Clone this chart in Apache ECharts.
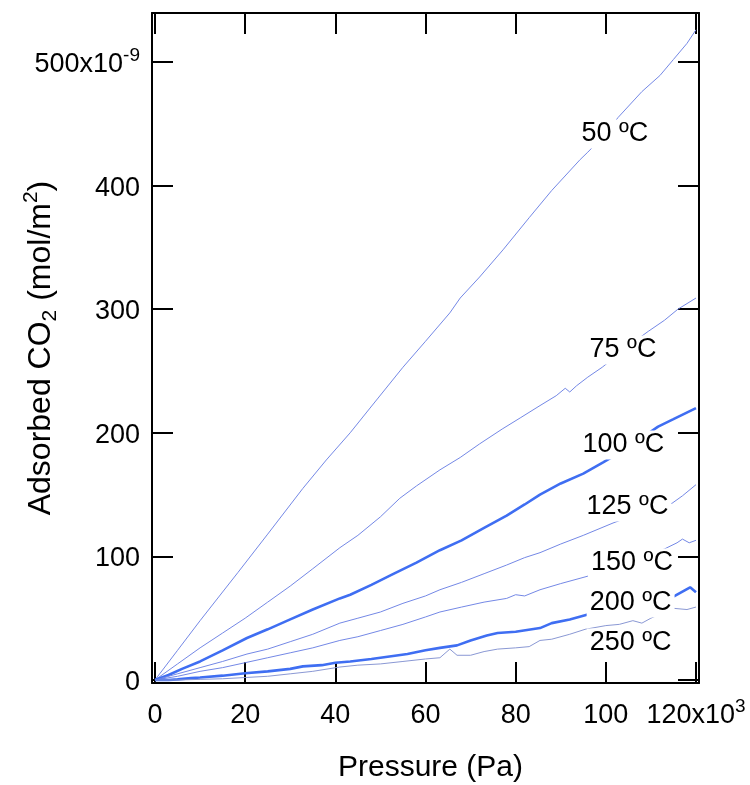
<!DOCTYPE html>
<html>
<head>
<meta charset="utf-8">
<script src="https://cdn.jsdelivr.net/npm/echarts@6/dist/echarts.min.js"></script>
<style>html,body{margin:0;padding:0;background:#fff;}#c{width:750px;height:785px;}</style>
</head>
<body>
<div id="c"></div>
<script>
// Pressure in units of 10^3 Pa, adsorbed CO2 in units of 10^-9 mol/m^2
const seriesNames = ['50 ºC', '75 ºC', '100 ºC', '125 ºC', '150 ºC', '200 ºC', '250 ºC'];
const xTicks = [0, 20, 40, 60, 80, 100, 120];
const yTicks = [0, 100, 200, 300, 400, 500];

const c50 = [[0,0],[5,24],[10,48],[18.4,87],[25,118],[32.8,155],[38,178],[43.3,200],[47.7,220],[55,253],[60,274],[65.4,297],[67.7,309],[72,326],[77.2,348],[83,374],[88,396],[94.3,421],[96,427],[100,442],[102.7,455],[108,476],[112,489],[115,502],[118,515],[120,526]];
const c75 = [[0,0],[5,13],[10,26],[15,38],[20,50],[25,63],[30,76],[35,90],[41,107],[45,117],[50,132],[54.3,147],[58,157],[63.2,170],[67.7,180],[72,191],[77,203],[81,212],[85.4,222],[89,230],[91,236],[92,233],[93.5,238],[96,245],[99.2,253],[103,264],[106,273],[109.4,282],[113,291],[116,300],[120,309]];
const c100 = [[0,0],[3,4],[6,9],[10,15],[15,24],[20.4,34],[25,41],[30,49],[35,57],[41,66],[43.3,69],[48,77],[53,86],[58,95],[63.2,105],[68,113],[73,123],[78,133],[82,142],[85.4,150],[90,159],[95,167],[99.4,176],[104,186],[108,196],[111.6,205],[115,211],[120,220]];
const c125 = [[0,0],[5,5],[10,10],[15,15],[20.4,21],[25,25],[30,31],[35,37],[41,46],[45,50],[50,55],[55,62],[60,68],[63.2,73],[68,79],[73,86],[78,93],[82,99],[85.4,103],[90,110],[95,117],[101.6,127],[106,133],[110,138],[114.7,143],[117,149],[120,158]];
const c150 = [[0,0],[5,3],[10,7],[15,10],[20,14],[25,18],[30,22],[35,26],[41,32],[45,35],[50,40],[55,45],[60,51],[63.2,55],[68,59],[73,63],[78,66],[80,69],[82,68],[85.4,73],[90,78],[96,84],[100,90],[105,96],[110,102],[113,106],[115.8,111],[117,114],[118.5,111],[120,113]];
const c200 = [[0,0],[3,0],[5,0.5],[8,1.5],[10,2],[15,3.5],[20,5.5],[25,7],[30,9],[32.8,11],[37,12],[40,14],[43.3,15],[48,17],[52,19],[56,21],[60,24],[63.2,26],[67,28],[70,32],[73.6,36],[76,38],[80,39],[85.4,42],[88,46],[92,49],[96,53],[100,56],[105,60],[110,63],[115.3,68],[118.7,75],[120,71]];
const c250 = [[0,0],[5,0],[10,0.5],[15,1],[20,2],[25,3],[30,5],[35,7],[41,10.5],[45,12],[50,13],[55,15],[60,17],[63.2,18],[65.4,25],[67,20],[70,20],[73,23],[76,25],[80,26],[83,27],[85.4,32],[88,33],[92,37],[95.4,41],[100,44],[103,45],[106,48],[108,46],[110,50],[115,58],[118,57],[120,59]];

const curveData = [c50, c75, c100, c125, c150, c200, c250];
const lineWidths = [1, 1, 2.6, 1, 1, 2.6, 1];
const lineColors = ['#7488e6', '#7488e6', '#3f6ef2', '#7488e6', '#7488e6', '#3f6ef2', '#8a98d4'];

// label anchor positions (data coords) for the curve names
const labelX = [102.0, 103.8, 103.9, 104.8, 105.8, 105.5, 105.5];
const labelY = [441.7, 267.0, 190.1, 140.0, 94.7, 62.3, 29.9];

const FONT = '"Liberation Sans", Arial, sans-serif';
const chart = echarts.init(document.getElementById('c'), null, {renderer: 'canvas'});

const series = curveData.map((d, i) => ({
  name: seriesNames[i],
  type: 'line',
  data: d,
  showSymbol: false,
  symbol: 'none',
  lineStyle: {width: lineWidths[i], color: lineColors[i]},
  z: 2
}));
series.push({
  type: 'scatter',
  data: seriesNames.map((n, i) => [labelX[i], labelY[i], n]),
  symbolSize: 0,
  itemStyle: {color: '#fff', opacity: 1},
  z: 10,
  label: {
    show: true,
    position: 'inside',
    formatter: p => p.data[2],
    fontFamily: FONT,
    fontSize: 27,
    color: '#000',
    opacity: 1,
    backgroundColor: '#fff',
    padding: [1, 3]
  }
});

const isTick = (v, arr) => arr.some(t => Math.abs(t - v) < 1e-6);

const axisLineStyle = {show: true, onZero: false, lineStyle: {color: '#000', width: 2}};
const tickStyle = {show: true, inside: true, length: 21, lineStyle: {color: '#000', width: 2}};

chart.setOption({
  animation: false,
  backgroundColor: '#fff',
  grid: {left: 152, right: 51, top: 13, bottom: 102, containLabel: false, outerBoundsMode: 'none'},
  xAxis: [{
    type: 'value', min: -0.665, max: 120.67, minInterval: 20, maxInterval: 20,
    position: 'bottom',
    axisLine: axisLineStyle,
    axisTick: tickStyle,
    splitLine: {show: false},
    axisLabel: {
      margin: 14, fontFamily: FONT, fontSize: 27, color: '#000',
      formatter: v => {
        if (!isTick(v, xTicks)) return '';
        if (Math.abs(v - xTicks[xTicks.length - 1]) < 1e-6) return '{b|' + v + 'x10}{p|3}';
        return '{b|' + v + '}';
      },
      rich: {
        b: {fontFamily: FONT, fontSize: 27, color: '#000', verticalAlign: 'bottom', lineHeight: 32},
        p: {fontFamily: FONT, fontSize: 19, color: '#000', verticalAlign: 'top', lineHeight: 19}
      }
    },
    name: 'Pressure (Pa)',
    nameLocation: 'middle',
    nameGap: 70,
    nameMoveOverlap: false,
    nameTextStyle: {fontFamily: FONT, fontSize: 30, color: '#000', padding: [0, 0, 0, 10]}
  }, {
    type: 'value', min: -0.665, max: 120.67, minInterval: 20, maxInterval: 20,
    position: 'top',
    axisLine: axisLineStyle,
    axisTick: tickStyle,
    axisLabel: {show: false},
    splitLine: {show: false}
  }],
  yAxis: [{
    type: 'value', min: -2.43, max: 539.6, minInterval: 100, maxInterval: 100,
    position: 'left',
    axisLine: axisLineStyle,
    axisTick: tickStyle,
    splitLine: {show: false},
    axisLabel: {
      margin: 12, fontFamily: FONT, fontSize: 27, color: '#000',
      formatter: v => {
        if (!isTick(v, yTicks)) return '';
        if (Math.abs(v - yTicks[yTicks.length - 1]) < 1e-6) return '{b|' + v + 'x10}{p|-9}';
        return '{b|' + v + '}';
      },
      rich: {
        b: {fontFamily: FONT, fontSize: 27, color: '#000', verticalAlign: 'bottom', lineHeight: 32},
        p: {fontFamily: FONT, fontSize: 19, color: '#000', verticalAlign: 'top', lineHeight: 19}
      }
    },
    name: '{t|Adsorbed CO}{sub|2}{t| (mol/m}{sup|2}{t|)}',
    nameLocation: 'middle',
    nameRotate: 90,
    nameGap: 91,
    nameMoveOverlap: false,
    nameTextStyle: {
      fontFamily: FONT, fontSize: 32, color: '#000',
      rich: {
        t: {fontFamily: FONT, fontSize: 32, color: '#000', verticalAlign: 'middle', lineHeight: 40},
        sub: {fontFamily: FONT, fontSize: 21, color: '#000', verticalAlign: 'bottom', lineHeight: 21},
        sup: {fontFamily: FONT, fontSize: 21, color: '#000', verticalAlign: 'top', lineHeight: 21}
      }
    }
  }, {
    type: 'value', min: -2.43, max: 539.6, minInterval: 100, maxInterval: 100,
    position: 'right',
    axisLine: axisLineStyle,
    axisTick: tickStyle,
    axisLabel: {show: false},
    splitLine: {show: false}
  }],
  series: series
});
</script>
</body>
</html>
